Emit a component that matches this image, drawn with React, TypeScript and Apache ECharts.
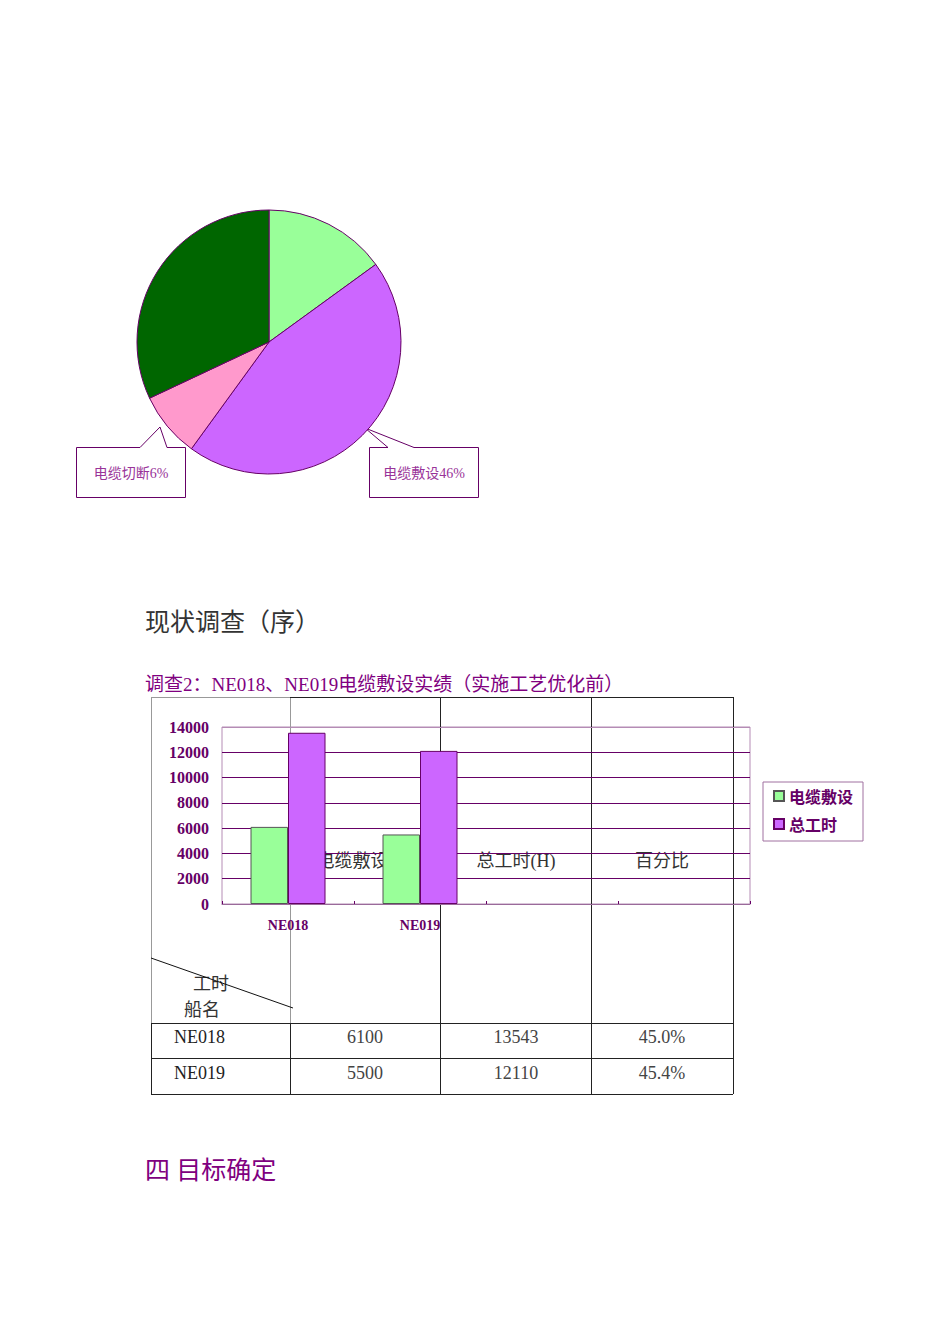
import React, { useEffect, useRef } from 'react';
import * as echarts from 'echarts';

// pie (shares of work)
const pieNames = ['项目A', '电缆敷设', '电缆切断', '项目D'];
const pieValues = [15, 45, 8, 32];
const pieColors = ['#99ff99', '#cc66ff', '#ff99cc', '#006600'];
const pieCallouts = ['电缆切断6%', '电缆敷设46%'];

// bar chart + table
const ships = ['NE018', 'NE019'];
const categories = ['NE018', 'NE019', '', ''];
const cableHours = [6100, 5500];
const totalHours = [13543, 12110];
const percentages = ['45.0%', '45.4%'];
const tableHeaders = ['电缆敷设(H)', '总工时(H)', '百分比'];
const seriesNames = ['电缆敷设', '总工时'];

const PURPLE = '#800080';
const DARK = '#660066';
const SERIF = '"Liberation Serif", "Noto Sans CJK SC", serif';

const px = (v: number) => Math.round(v) + 0.5;

const hLine = (x1: number, x2: number, y: number, stroke = '#222') => ({
  type: 'line',
  shape: { x1, y1: px(y), x2, y2: px(y) },
  style: { stroke, lineWidth: 1 },
  silent: true,
});
const vLine = (x: number, y1: number, y2: number, stroke = '#222') => ({
  type: 'line',
  shape: { x1: px(x), y1, x2: px(x), y2 },
  style: { stroke, lineWidth: 1 },
  silent: true,
});
const label = (
  text: string,
  x: number,
  y: number,
  size: number,
  fill: string,
  align = 'left',
) => ({
  type: 'text',
  x,
  y,
  silent: true,
  style: {
    text,
    fill,
    fontSize: size,
    fontFamily: SERIF,
    align,
    textAlign: align,
    verticalAlign: 'middle',
    textVerticalAlign: 'middle',
  },
});

const App: React.FC = () => {
  const chartRef = useRef<HTMLDivElement>(null);

  useEffect(() => {
    if (!chartRef.current) return;
    document.body.style.margin = '0';
    const chart = echarts.init(chartRef.current, null, { renderer: 'svg' });

    // table cells below the chart
    const rowY = [697, 1023, 1058, 1094];
    const colCenters = [365, 516, 662];

    const tableGraphics: any[] = [
      // chart frame part of the header cell (grey)
      hLine(151, 290, 697, '#999'),
      vLine(151, 697, 1023, '#999'),
      vLine(290, 697, 1023, '#999'),
      hLine(290, 733, 697),
      vLine(151, 1023, 1094),
      vLine(290, 1023, 1094),
      vLine(440, 697, 1094),
      vLine(591, 697, 1094),
      vLine(733, 697, 1094),
      hLine(151, 733, rowY[1]),
      hLine(151, 733, rowY[2]),
      hLine(151, 733, rowY[3]),
    ];
    tableHeaders.forEach((h, i) => tableGraphics.push(label(h, colCenters[i], 861, 18, '#333', 'center')));
    tableGraphics.push(label('工时', 211, 984, 18, '#333', 'center'));
    tableGraphics.push(label('船名', 202, 1010, 18, '#333', 'center'));
    tableGraphics.push({
      type: 'line',
      shape: { x1: 151, y1: 958, x2: 293, y2: 1008 },
      style: { stroke: '#111', lineWidth: 1 },
      silent: true,
    });
    ships.forEach((s, i) => {
      const y = (rowY[i + 1] + rowY[i + 2]) / 2 - 3.5;
      tableGraphics.push(label(s, 174, y, 18, '#222'));
      tableGraphics.push(label(String(cableHours[i]), colCenters[0], y, 18, '#444', 'center'));
      tableGraphics.push(label(String(totalHours[i]), colCenters[1], y, 18, '#444', 'center'));
      tableGraphics.push(label(percentages[i], colCenters[2], y, 18, '#444', 'center'));
    });

    const calloutStyle = { fill: '#fff', stroke: DARK, lineWidth: 1 };

    const option: any = {
      animation: false,
      backgroundColor: '#fff',
      legend: {
        data: seriesNames,
        orient: 'vertical',
        left: 763,
        top: 782,
        icon: 'rect',
        itemWidth: 10,
        itemHeight: 10,
        itemGap: 10,
        padding: [5, 10, 8, 10],
        borderColor: '#a070a0',
        borderWidth: 1,
        backgroundColor: '#fff',
        textStyle: {
          color: DARK,
          fontSize: 16,
          fontWeight: 'bold',
          lineHeight: 18,
          fontFamily: '"Noto Sans CJK SC", sans-serif',
        },
      },
      grid: {
        left: 222,
        top: 727,
        width: 528,
        height: 177,
        show: true,
        borderColor: '#b58cb5',
        borderWidth: 1,
        backgroundColor: 'transparent',
        containLabel: false,
        outerBoundsMode: 'none',
      },
      xAxis: {
        type: 'category',
        data: categories,
        axisLine: { lineStyle: { color: '#9a6a9a', width: 1 } },
        axisTick: { show: true, inside: true, length: 3, lineStyle: { color: DARK } },
        axisLabel: {
          color: DARK,
          fontSize: 14,
          fontWeight: 'bold',
          fontFamily: SERIF,
          margin: 14,
          interval: 0,
        },
      },
      yAxis: {
        type: 'value',
        min: 0,
        max: 14000,
        interval: 2000,
        axisLine: { show: false },
        axisTick: { show: false },
        axisLabel: {
          color: DARK,
          fontSize: 16,
          fontWeight: 'bold',
          fontFamily: SERIF,
          margin: 13,
          formatter: (v: number) => String(v),
        },
        splitLine: {
          lineStyle: {
            color: ['#b58cb5', DARK, DARK, DARK, DARK, DARK, DARK, '#b58cb5'],
            width: 1,
          },
        },
      },
      series: [
        {
          name: seriesNames[0],
          type: 'bar',
          data: cableHours,
          barWidth: 37.5,
          barGap: '0%',
          itemStyle: { color: '#99ff99', borderColor: '#555', borderWidth: 1 },
        },
        {
          name: seriesNames[1],
          type: 'bar',
          data: totalHours,
          barWidth: 37.5,
          itemStyle: { color: '#cc66ff', borderColor: DARK, borderWidth: 1 },
        },
        {
          name: '饼图',
          type: 'pie',
          center: [269, 342],
          radius: 132,
          startAngle: 90,
          clockwise: true,
          label: { show: false },
          labelLine: { show: false },
          legendHoverLink: false,
          itemStyle: { borderColor: DARK, borderWidth: 1 },
          data: pieNames.map((name, i) => ({
            name,
            value: pieValues[i],
            itemStyle: { color: pieColors[i] },
          })),
        },
      ],
      graphic: [
        label('现状调查（序）', 145, 622, 25, '#333'),
        label('调查2：NE018、NE019电缆敷设实绩（实施工艺优化前）', 145, 684, 19, PURPLE),
        label('四 目标确定', 145, 1170, 25, PURPLE),
        {
          type: 'polygon',
          silent: true,
          shape: {
            points: [[76.5, 447.5], [140, 447.5], [160, 427], [167, 447.5], [185.5, 447.5], [185.5, 497.5], [76.5, 497.5]],
          },
          style: calloutStyle,
        },
        {
          type: 'polygon',
          silent: true,
          shape: {
            points: [[369.5, 447.5], [388, 447.5], [365, 428], [414, 447.5], [478.5, 447.5], [478.5, 497.5], [369.5, 497.5]],
          },
          style: calloutStyle,
        },
        label(pieCallouts[0], 131, 473, 14, '#993399', 'center'),
        label(pieCallouts[1], 424, 473, 14, '#993399', 'center'),
        ...tableGraphics,
      ],
    };

    chart.setOption(option);
    return () => {
      chart.dispose();
    };
  }, []);

  return <div ref={chartRef} style={{ width: 950, height: 1344 }} />;
};

export default App;
